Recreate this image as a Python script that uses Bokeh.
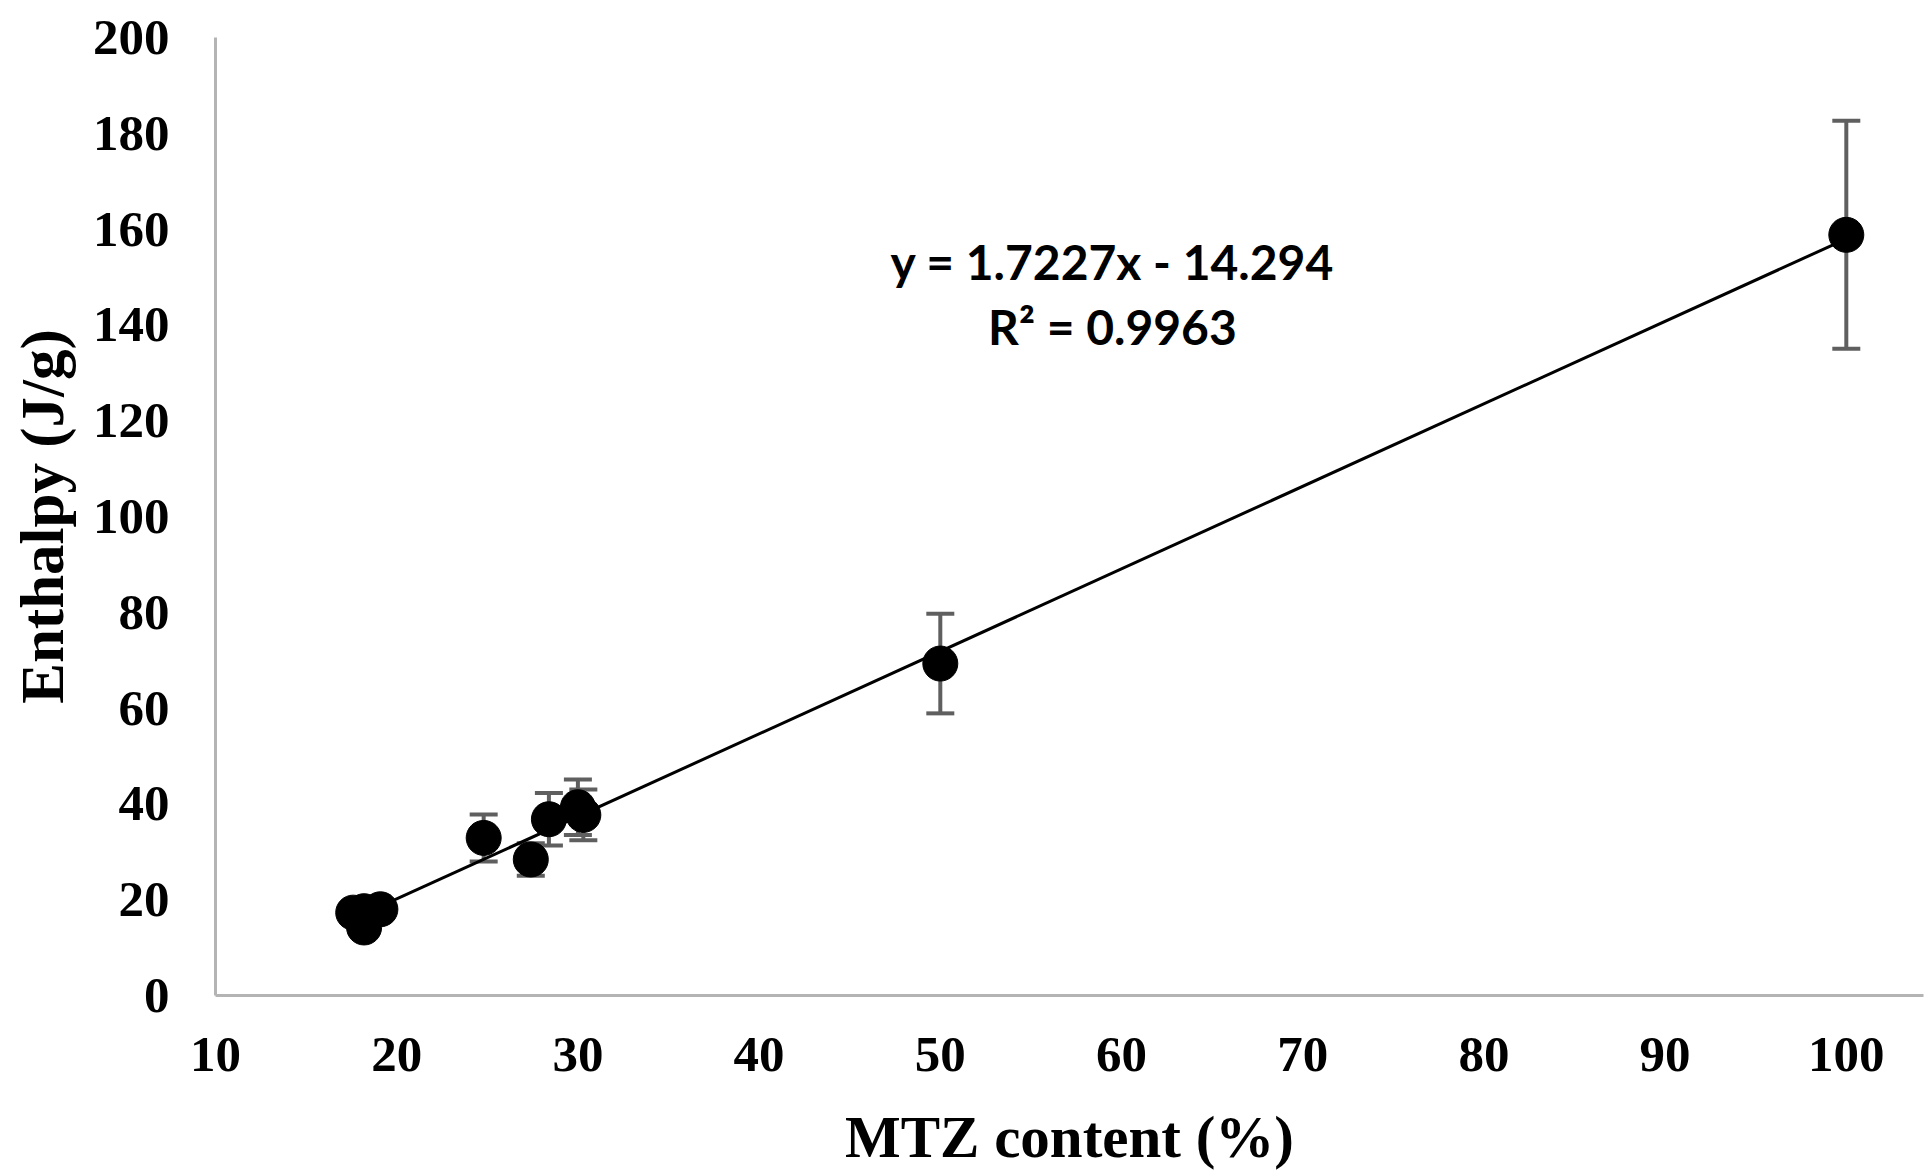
import numpy as np
from bokeh.plotting import figure
from bokeh.models import ColumnDataSource, Whisker, TeeHead, FixedTicker, Range1d, Label
from bokeh.embed import file_html
from bokeh.resources import INLINE

# ---- data ----
mtz = [17.6, 18.2, 18.2, 19.1, 24.8, 27.4, 28.4, 30.0, 30.3, 50.0, 100.0]
enthalpy = [17.3, 17.6, 14.2, 18.0, 32.9, 28.4, 36.8, 39.3, 37.7, 69.3, 158.8]
err = [1.2, 1.2, 1.2, 1.2, 4.9, 3.4, 5.5, 5.8, 5.3, 10.4, 23.8]
slope = 1.7227
intercept = -14.294
r2 = 0.9963
x_ticks = [10, 20, 30, 40, 50, 60, 70, 80, 90, 100]
y_ticks = [0, 20, 40, 60, 80, 100, 120, 140, 160, 180, 200]

lower = [v - e for v, e in zip(enthalpy, err)]
upper = [v + e for v, e in zip(enthalpy, err)]
src = ColumnDataSource(dict(x=mtz, y=enthalpy, lower=lower, upper=upper))

p = figure(width=1927, height=1172, output_backend="svg", toolbar_location=None,
           x_range=Range1d(10, 104.26), y_range=Range1d(0, 200),
           min_border_left=215, min_border_right=4, min_border_top=37, min_border_bottom=174)
p.outline_line_color = None
p.xgrid.grid_line_color = None
p.ygrid.grid_line_color = None
p.background_fill_color = "white"
p.border_fill_color = "white"

# trendline from the fit equation
xs = np.array([min(mtz), max(mtz)])
p.line(xs, slope * xs + intercept, line_color="black", line_width=3)

w = Whisker(source=src, base="x", lower="lower", upper="upper", level="underlay",
            line_color="#5f5f5f", line_width=4,
            upper_head=TeeHead(size=28, line_color="#5f5f5f", line_width=4),
            lower_head=TeeHead(size=28, line_color="#5f5f5f", line_width=4))
p.add_layout(w)

p.scatter("x", "y", source=src, size=35, fill_color="black", line_color="black")

for ax in (p.xaxis[0], p.yaxis[0]):
    ax.axis_line_color = "#b4b4b4"
    ax.axis_line_width = 3
    ax.major_tick_line_color = None
    ax.minor_tick_line_color = None
    ax.major_label_text_font = "Liberation Serif"
    ax.major_label_text_font_style = "bold"
    ax.major_label_text_font_size = "51px"
    ax.major_label_text_color = "black"
    ax.axis_label_text_font = "Liberation Serif"
    ax.axis_label_text_font_style = "bold"
    ax.axis_label_text_color = "black"

p.xaxis.axis_label_text_font_size = "59px"
p.yaxis.axis_label_text_font_size = "61px"
p.xaxis.ticker = FixedTicker(ticks=x_ticks)
p.yaxis.ticker = FixedTicker(ticks=y_ticks)
p.xaxis.axis_label = "MTZ content (%)"
p.yaxis.axis_label = "Enthalpy (J/g)"
p.xaxis.major_label_standoff = 36
p.yaxis.major_label_standoff = 40
p.xaxis.axis_label_standoff = 30
p.yaxis.axis_label_standoff = 14

eq1 = "y = %.4fx - %.3f" % (slope, -intercept)
eq2 = "R² = %.4f" % r2
for txt, yy in ((eq1, 153.2), (eq2, 139.6)):
    p.add_layout(Label(x=59.5, y=yy, text=txt, text_align="center", text_baseline="middle",
                       text_font="Lato", text_font_style="bold", text_font_size="48px",
                       text_color="black"))

open("out.html", "w").write(file_html(p, INLINE))
